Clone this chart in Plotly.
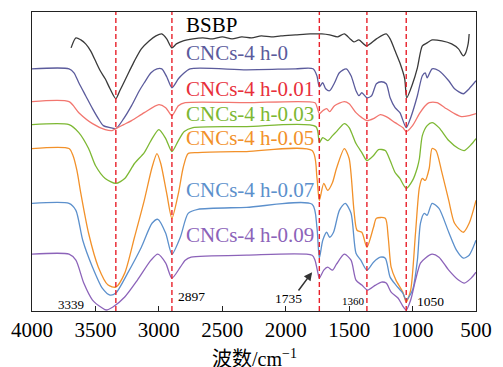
import plotly.graph_objects as go

# ---- data (wavenumber cm^-1, transmittance a.u.) ----
bsbp_x = [3692,3654,3615,3577,3538,3500,3462,3423,3385,3339,3308,3269,3231,3192,3138,3077,3023,2977,2938,2897,2862,2808,2731,2654,2577,2500,2423,2346,2269,2192,2115,2038,1923,1808,1715,1654,1592,1538,1492,1462,1423,1362,1285,1208,1177,1138,1100,1062,1046,1000,962,923,885,846,769,692,638,600,585,562,554]
bsbp_y = [264,274,272,268,261,251,241,233,223,213,221,231,241,251,263,271,276,278,273,264,268,271,273,274,273,275,273,275,274,276,275,276,277,278,278,277,275,278,273,270,272,266,273,278,273,261,249,233,214,228,244,266,269,272,271,268,263,256,258,268,278]

h0_x = [4000,3708,3669,3631,3577,3523,3477,3438,3385,3339,3277,3215,3154,3115,3062,3015,2977,2938,2897,2846,2808,2754,2308,1923,1785,1754,1735,1708,1685,1654,1615,1577,1523,1485,1446,1423,1400,1360,1323,1285,1246,1208,1177,1138,1100,1050,1015,962,923,900,885,846,792,715,669,600,554,500]
h0_y = [243,243,239,229,216,203,193,186,184,183,193,206,221,229,239,243,243,235,224,233,238,243,242,243,243,236,225,229,223,221,229,239,243,236,221,216,219,214,216,228,230,228,214,204,199,184,194,216,236,239,234,243,241,231,223,218,223,231]

h001_x = [4000,3708,3631,3523,3423,3369,3339,3277,3215,3115,3000,2946,2897,2846,2792,2308,1769,1754,1735,1708,1677,1654,1615,1538,1500,1446,1400,1360,1308,1254,1208,1138,1077,1050,1000,946,900,869,808,746,669,615,554,500]
h001_y = [210,210,199,188,182,181,183,187,191,199,207,204,196,206,209,209,209,205,198,201,203,200,206,210,208,199,194,191,193,197,195,189,184,180,186,198,206,209,209,204,198,195,196,198]

h003_x = [4000,3708,3631,3554,3500,3423,3339,3269,3192,3115,3062,3000,2946,2897,2846,2800,2731,2308,1762,1735,1708,1669,1631,1600,1538,1500,1446,1400,1360,1308,1269,1215,1177,1138,1100,1050,1000,962,946,923,885,846,792,715,638,592,538,500]
h003_y = [187,187,179,163,146,133,128,133,148,159,171,182,173,160,171,180,184,185,185,169,174,171,176,180,188,184,168,159,151,156,162,161,151,139,133,123,131,144,153,176,186,189,184,171,163,161,167,173]

h005_x = [4000,3708,3677,3646,3615,3554,3477,3400,3339,3269,3192,3115,3054,3015,2985,2938,2897,2846,2808,2769,2692,2308,1792,1754,1735,1700,1669,1631,1600,1538,1500,1462,1438,1400,1360,1308,1285,1215,1192,1169,1131,1077,1050,1015,977,946,923,900,869,846,815,769,715,669,600,554,500]
h005_y = [163,163,156,141,118,78,44,26,24,38,74,111,144,158,148,118,93,118,144,158,159,160,161,134,111,128,121,129,143,163,153,101,81,79,64,84,93,93,74,44,31,19,9,21,78,124,133,131,143,163,161,139,111,88,79,88,111]

h007_x = [4000,3708,3654,3600,3523,3446,3385,3339,3246,3138,3054,3008,2946,2897,2831,2769,2692,2308,1792,1754,1735,1708,1677,1654,1623,1577,1531,1485,1446,1408,1360,1308,1254,1215,1177,1131,1077,1050,1000,962,938,908,885,846,792,715,654,600,554,500]
h007_y = [108,108,101,71,44,23,16,18,38,64,88,92,78,57,74,98,102,104,107,84,53,71,79,74,79,101,108,98,58,51,41,49,54,53,34,26,18,11,21,51,88,98,96,108,103,79,61,53,56,71]

h009_x = [4000,3708,3654,3592,3523,3446,3415,3362,3269,3169,3062,3008,2946,2897,2831,2792,2746,2308,1792,1769,1746,1735,1700,1669,1631,1600,1538,1485,1446,1400,1354,1292,1246,1208,1169,1115,1077,1050,1015,977,938,900,846,792,715,638,592,538,500]
h009_y = [57,57,51,28,11,3,1,4,14,31,51,57,48,33,44,51,54,56,56,51,38,33,41,44,41,47,57,51,31,26,21,26,29,28,19,13,5,1,11,31,48,53,57,54,41,31,28,33,39]

names = ["BSBP", "CNCs-4 h-0", "CNCs-4 h-0.01", "CNCs-4 h-0.03",
         "CNCs-4 h-0.05", "CNCs-4 h-0.07", "CNCs-4 h-0.09"]
line_colors = ["#3a3a3a", "#5b5b9c", "#f2766f", "#7db833", "#f2912a", "#5c90cc", "#8c63b9"]
label_colors = ["#000000", "#5b5b9c", "#e8303b", "#7db833", "#f2912a", "#5c90cc", "#8c63b9"]
label_y = [287, 259, 223, 198, 174, 121, 76]
label_x = 2800

peak_wn = [3339, 2897, 1735, 1360, 1050]
peak_labels = ["3339", "2897", "1735", "1360", "1050"]
peak_label_x = [3692, 2746, 1977, 1469, 862]
peak_label_y = [7, 15, 13, 10, 10]
peak_label_size = [13, 13.5, 13.5, 11, 13.5]

xticks = [4000, 3500, 3000, 2500, 2000, 1500, 1000, 500]

series_x = [bsbp_x, h0_x, h001_x, h003_x, h005_x, h007_x, h009_x]
series_y = [bsbp_y, h0_y, h001_y, h003_y, h005_y, h007_y, h009_y]

SERIF = "Liberation Serif, Times New Roman, Noto Sans CJK SC, serif"

fig = go.Figure()
for xs, ys, nm, c in zip(series_x, series_y, names, line_colors):
    fig.add_trace(go.Scatter(x=xs, y=ys, mode="lines", name=nm,
                             line=dict(color=c, width=1.3, shape="spline", smoothing=0.7),
                             showlegend=False, hoverinfo="skip"))

shapes = []
for wn in peak_wn:
    shapes.append(dict(type="line", xref="x", yref="paper", x0=wn, x1=wn, y0=0, y1=1,
                       line=dict(color="#e8202a", width=1.4, dash="5px,3px"), layer="above"))

annotations = []
for nm, c, yy in zip(names, label_colors, label_y):
    annotations.append(dict(x=label_x, y=yy, xref="x", yref="y", text=nm, showarrow=False,
                            xanchor="left", yanchor="middle",
                            font=dict(family=SERIF, size=21, color=c)))
for t, xx, yy, sz in zip(peak_labels, peak_label_x, peak_label_y, peak_label_size):
    annotations.append(dict(x=xx, y=yy, xref="x", yref="y", text=t, showarrow=False,
                            xanchor="center", yanchor="middle",
                            font=dict(family=SERIF, size=sz, color="#000000")))
# arrow pointing to 1735 band
annotations.append(dict(x=1792, y=39, ax=1908, ay=19, xref="x", yref="y", axref="x", ayref="y",
                        text="", showarrow=True, arrowhead=2, arrowsize=1.1, arrowwidth=1.5,
                        arrowcolor="#333333"))
# axis title
annotations.append(dict(x=0.5, y=-0.157, xref="paper", yref="paper",
                        text="波数/cm<sup>−1</sup>", showarrow=False,
                        xanchor="center", yanchor="middle",
                        font=dict(family=SERIF, size=20, color="#000000")))

fig.update_layout(
    width=503, height=367,
    margin=dict(l=30, r=18, t=11, b=56),
    paper_bgcolor="white", plot_bgcolor="white",
    shapes=shapes, annotations=annotations,
    xaxis=dict(range=[4000, 500], tickvals=xticks, ticktext=[str(v) for v in xticks],
               ticks="inside", ticklen=5, tickwidth=1.2, tickcolor="#222",
               showline=True, mirror=True, linecolor="#222", linewidth=1.3,
               showgrid=False, zeroline=False,
               tickfont=dict(family=SERIF, size=21, color="#000")),
    yaxis=dict(range=[0, 300], showticklabels=False, ticks="",
               showline=True, mirror=True, linecolor="#222", linewidth=1.3,
               showgrid=False, zeroline=False),
)

fig.write_html("out.html")
